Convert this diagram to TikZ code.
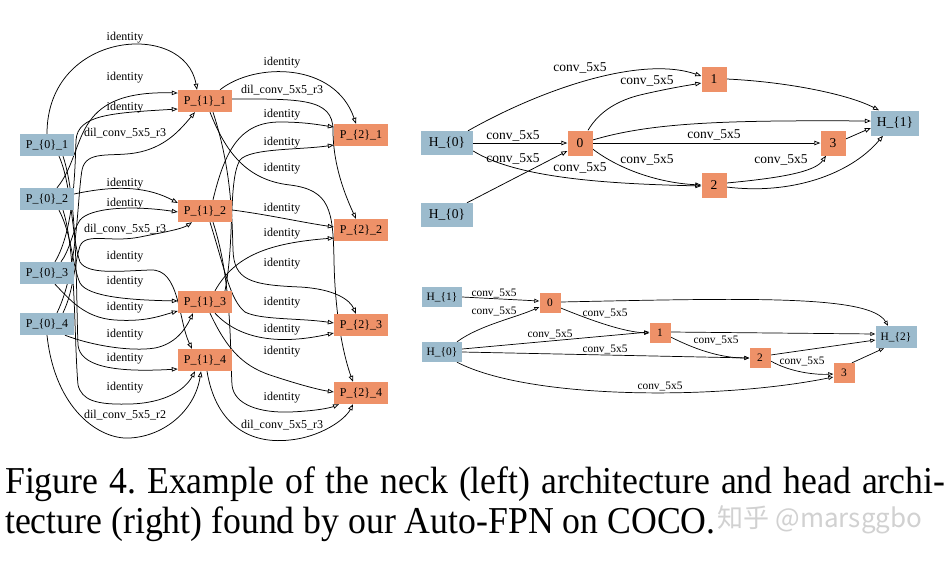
\documentclass[tikz,border=0pt]{standalone}
\usepackage{fontspec}
\setmainfont{Liberation Serif}
\newfontfamily\cjkfont{Noto Sans CJK SC}
\usetikzlibrary{arrows.meta,backgrounds}
\definecolor{nblue}{RGB}{156,187,205}
\definecolor{norange}{RGB}{238,145,104}
\newcommand\myfs[1]{\fontsize{#1pt}{#1pt}\selectfont}
\frenchspacing
\begin{document}
\begin{tikzpicture}[x=1pt,y=-1pt,
  pn/.style={fill=nblue, minimum width=54pt, minimum height=22pt, inner sep=0pt, font=\myfs{12}},
  po/.style={pn, fill=norange},
  hb/.style={fill=nblue, minimum width=52pt, minimum height=24pt, inner sep=0pt, font=\myfs{13.5}},
  hbs/.style={hb, minimum width=48pt, minimum height=25pt},
  ho/.style={fill=norange, minimum width=25pt, minimum height=25pt, inner sep=0pt, font=\myfs{13.5}},
  gb/.style={fill=nblue, minimum width=40pt, minimum height=20pt, inner sep=0pt, font=\myfs{11.4}},
  go/.style={fill=norange, minimum width=21pt, minimum height=20pt, inner sep=0pt, font=\myfs{11.4}},
  edg/.style={draw=black, line width=0.75pt, -{Triangle[open,length=6pt,width=4.5pt]}},
  sedg/.style={draw=black, line width=0.7pt, -{Triangle[open,length=5pt,width=4pt]}},
  ll/.style={inner sep=0pt, font=\myfs{12}},
  hl/.style={inner sep=0pt, font=\myfs{13.5}},
  gl/.style={inner sep=0pt, font=\myfs{11.4}},
]
\path[use as bounding box] (0,0) rectangle (951,563);

% ---------------- left graph nodes
\node[pn] (p01) at (47,145) {P\_\{0\}\_1};
\node[pn] (p02) at (47,199) {P\_\{0\}\_2};
\node[pn] (p03) at (47,273) {P\_\{0\}\_3};
\node[pn] (p04) at (47,324) {P\_\{0\}\_4};
\node[po] (p11) at (205,101) {P\_\{1\}\_1};
\node[po] (p12) at (205,211) {P\_\{1\}\_2};
\node[po] (p13) at (205,302) {P\_\{1\}\_3};
\node[po] (p14) at (205,360) {P\_\{1\}\_4};
\node[po] (p21) at (361,135) {P\_\{2\}\_1};
\node[po] (p22) at (361,230) {P\_\{2\}\_2};
\node[po] (p23) at (361,325) {P\_\{2\}\_3};
\node[po] (p24) at (361,393) {P\_\{2\}\_4};

% ---------------- upper right graph nodes
\node[hb] (h0a) at (447,143) {H\_\{0\}};
\node[hb] (h0b) at (447,215) {H\_\{0\}};
\node[ho] (n0) at (580,143) {0};
\node[ho] (n1) at (714,79) {1};
\node[ho] (n2) at (714,185) {2};
\node[ho] (n3) at (833,143) {3};
\node[hbs] (h1) at (895,123) {H\_\{1\}};

% ---------------- lower right graph nodes
\node[gb] (g1) at (442,297) {H\_\{1\}};
\node[gb] (g0) at (442,352) {H\_\{0\}};
\node[go] (m0) at (550,303) {0};
\node[go] (m1) at (660,333) {1};
\node[go] (m2) at (760,358) {2};
\node[go] (m3) at (844,373) {3};
\node[gb, minimum width=41pt, minimum height=22pt] (g2) at (896,337) {H\_\{2\}};

\begin{scope}[on background layer]
\fill[white] (0,0) rectangle (951,563);
% P0 -> P1
\draw[edg] (p01.north) .. controls (47,30) and (185,20) .. ([xshift=-8pt]p11.north);
\draw[edg] ([xshift=10pt]p02.north) .. controls (88,150) and (68,90) .. ([yshift=8pt]p11.west);
\draw[edg] ([xshift=8pt]p03.north) .. controls (74,230) and (75,170) .. (76,140) .. controls (78,115) and (110,113) .. ([yshift=-8pt]p11.west);
\draw[edg] ([xshift=10pt]p04.north) .. controls (78,270) and (77,200) .. (82,170) .. controls (86,150) and (110,157) .. (135,153) .. controls (165,148) and (180,130) .. ([xshift=-10pt]p11.south);
\draw[edg] ([yshift=5pt]p02.east) .. controls (120,184) and (150,188) .. ([yshift=8pt]p12.west);
\draw[edg] ([xshift=14pt]p03.north) .. controls (70,250) and (72,232) .. (80,220) .. controls (90,208) and (130,205) .. ([yshift=-1pt]p12.west);
\draw[edg] ([xshift=16pt]p04.north) .. controls (74,290) and (74,265) .. (80,246) .. controls (86,232) and (110,243) .. (140,237) .. controls (165,232) and (182,229) .. ([xshift=-13pt]p12.south);
\draw[edg] ([xshift=12pt]p01.south) .. controls (72,185) and (72,240) .. (80,262) .. controls (88,275) and (120,271) .. (150,270) .. controls (180,268) and (178,320) .. ([xshift=-13pt]p14.north);
\draw[edg] ([xshift=12pt]p02.south) .. controls (72,235) and (72,265) .. (80,283) .. controls (88,297) and (130,300) .. ([yshift=1pt]p13.west);
\draw[edg] ([xshift=8pt]p03.south) .. controls (70,300) and (85,318) .. (115,320) .. controls (145,322) and (160,316) .. ([yshift=-9pt]p13.west);
\draw[edg] ([xshift=18pt]p04.south) .. controls (90,345) and (130,352) .. (155,348) .. controls (175,344) and (185,330) .. ([xshift=-12pt]p13.south);
\draw[edg] ([xshift=16pt]p01.south) .. controls (78,200) and (76,300) .. (78,345) .. controls (80,365) and (110,373) .. ([yshift=-9pt]p14.west);
\draw[edg] ([xshift=16pt]p02.south) .. controls (76,250) and (74,340) .. (78,385) .. controls (82,400) and (95,405) .. (130,404) .. controls (165,403) and (185,390) .. ([xshift=-10pt]p14.south);
\draw[edg] (p04.south) .. controls (55,410) and (100,440) .. (130,438) .. controls (165,436) and (195,410) .. ([xshift=-4pt]p14.south);

% P1 -> P2
\draw[edg] ([xshift=15pt]p11.north) .. controls (255,62) and (335,62) .. ([xshift=-5pt]p21.north);
\draw[edg] ([yshift=2pt]p11.east) .. controls (300,99) and (333,98) .. (333,130) .. controls (333,165) and (345,195) .. ([xshift=-5pt]p22.north);
\draw[edg] ([xshift=8pt]p12.north) .. controls (225,150) and (240,122) .. (280,122) .. controls (305,122) and (320,125) .. ([yshift=8pt]p21.west);
\draw[edg] ([xshift=20pt]p13.north) .. controls (235,240) and (228,180) .. (240,160) .. controls (250,148) and (300,150) .. ([yshift=-10pt]p21.west);
\draw[edg] ([xshift=5pt]p11.south) .. controls (225,150) and (245,180) .. (290,185) .. controls (330,190) and (333,210) .. (334,260) .. controls (335,320) and (345,360) .. ([xshift=-8pt]p24.north);
\draw[edg] ([yshift=1pt]p12.east) .. controls (270,215) and (300,222) .. ([yshift=3pt]p22.west);
\draw[edg] ([xshift=10pt]p13.north) .. controls (235,255) and (270,243) .. ([yshift=-8pt]p22.west);
\draw[edg] ([xshift=8pt]p11.south) .. controls (232,170) and (232,220) .. (233,250) .. controls (234,280) and (250,285) .. (300,287) .. controls (335,289) and (350,300) .. ([xshift=-5pt]p23.north);
\draw[edg] ([xshift=5pt]p12.south) .. controls (225,270) and (230,300) .. (245,312) .. controls (260,320) and (300,318) .. ([yshift=2pt]p23.west);
\draw[edg] ([xshift=10pt]p13.south) .. controls (240,340) and (280,345) .. ([yshift=-8pt]p23.west);
\draw[edg] ([xshift=5pt]p13.south) .. controls (225,345) and (240,365) .. (270,375) .. controls (300,385) and (320,390) .. ([yshift=1pt]p24.west);
\draw[edg] ([xshift=8pt]p12.south) .. controls (232,280) and (230,350) .. (232,385) .. controls (234,405) and (260,413) .. (290,412) .. controls (315,411) and (330,408) .. ([xshift=-22pt]p24.south);
\draw[edg] ([xshift=2pt]p14.south) .. controls (215,420) and (245,445) .. (290,440) .. controls (320,437) and (345,420) .. ([xshift=-8pt]p24.south);

% upper right edges
\draw[edg] ([xshift=21pt]h0a.north) .. controls (540,90) and (640,55) .. ([yshift=3pt]n1.west);
\draw[edg] ([xshift=8pt]n0.north) .. controls (600,110) and (620,100) .. (640,95) .. controls (670,88) and (690,85) .. ([yshift=-4pt]n1.west);
\draw[edg] (h0a.east) -- (n0.west);
\draw[edg] ([xshift=20pt]h0b.north) -- ([yshift=-8pt]n0.west);
\draw[edg] ([yshift=-8pt]h0a.east) .. controls (520,180) and (620,184) .. ([yshift=-1pt]n2.west);
\draw[edg] ([yshift=-6pt]n0.east) .. controls (620,170) and (660,183) .. ([yshift=0pt]n2.west);
\draw[edg] ([yshift=3pt]n0.east) .. controls (650,123) and (720,120) .. ([yshift=2pt]h1.west);
\draw[edg] (n0.east) -- (n3.west);
\draw[edg] (n1.east) .. controls (790,82) and (850,95) .. ([xshift=-16pt]h1.north);
\draw[edg] ([yshift=2pt]n2.east) .. controls (780,178) and (815,172) .. ([xshift=-7pt]n3.south);
\draw[edg] ([yshift=-2pt]n2.east) .. controls (790,195) and (850,175) .. ([xshift=-12pt]h1.south);
\draw[edg] ([yshift=4pt]n3.east) -- ([yshift=-5pt]h1.west);

% lower right edges
\draw[sedg] (g1.east) -- ([yshift=2pt]m0.west);
\draw[sedg] ([xshift=15pt]g0.north) .. controls (480,325) and (515,318) .. ([yshift=-4pt]m0.west);
\draw[sedg] ([yshift=-5pt]m0.east) .. controls (595,322) and (625,332) .. (m1.west);
\draw[sedg] ([yshift=3pt]g0.east) -- ([yshift=1pt]m1.west);
\draw[sedg] (g0.east) -- (m2.west);
\draw[sedg] ([xshift=15pt]g0.south) .. controls (530,400) and (720,400) .. ([yshift=-4pt]m3.west);
\draw[sedg] ([yshift=1pt]m0.east) .. controls (750,298) and (870,295) .. ([xshift=-8pt]g2.north);
\draw[sedg] ([yshift=1pt]m1.east) -- ([yshift=3pt]g2.west);
\draw[sedg] ([yshift=-4pt]m1.east) .. controls (700,352) and (725,358) .. (m2.west);
\draw[sedg] ([yshift=3pt]m2.east) -- ([yshift=-3pt]g2.west);
\draw[sedg] ([yshift=-3pt]m2.east) .. controls (790,372) and (815,375) .. ([yshift=-1pt]m3.west);
\draw[sedg] ([xshift=8pt]m3.north) -- ([xshift=-12pt]g2.south);
\end{scope}

% labels
\foreach \yy/\tt [count=\i] in {38/identity,78/identity,108/identity,133/dil\_conv\_5x5\_r3,184/identity,204/identity,229/dil\_conv\_5x5\_r3,257/identity,282/identity,308/identity,335/identity,359/identity,388/identity,415/dil\_conv\_5x5\_r2}
  \node[ll] (la\i) at (125,\yy) {\tt};
\foreach \yy/\tt [count=\i] in {63/identity,90/dil\_conv\_5x5\_r3,115/identity,143/identity,169/identity,209/identity,234/identity,264/identity,303/identity,330/identity,352/identity,398/identity,425/dil\_conv\_5x5\_r3}
  \node[ll] (lb\i) at (282,\yy) {\tt};
\foreach \xx/\yy [count=\i] in {580/68,647/81,513/136,513/159,580/168,647/160,714/135,781/160}
  \node[hl] (lc\i) at (\xx,\yy) {conv\_5x5};
\foreach \xx/\yy [count=\i] in {494/293,494/311,605/313,550/334,605/349,716/340,802/361,660/386}
  \node[gl] (ld\i) at (\xx,\yy) {conv\_5x5};

% ---------------- caption
\node[anchor=base west, inner sep=0pt, font=\myfs{38}] (cap1) at (5,493)
  {\scalebox{0.94}[1]{\makebox[1000pt][s]{Figure 4. Example of the neck (left) architecture and head archi-}}};
\node[anchor=base west, inner sep=0pt, font=\myfs{38}] (cap2) at (5,533)
  {\scalebox{0.94}[1]{tecture (right) found by our Auto-FPN on COCO.}};
\node[inner sep=0pt, text=black!18, font=\cjkfont\myfs{26}] (wm) at (820,520) {知乎 @marsggbo};
\end{tikzpicture}
\end{document}
